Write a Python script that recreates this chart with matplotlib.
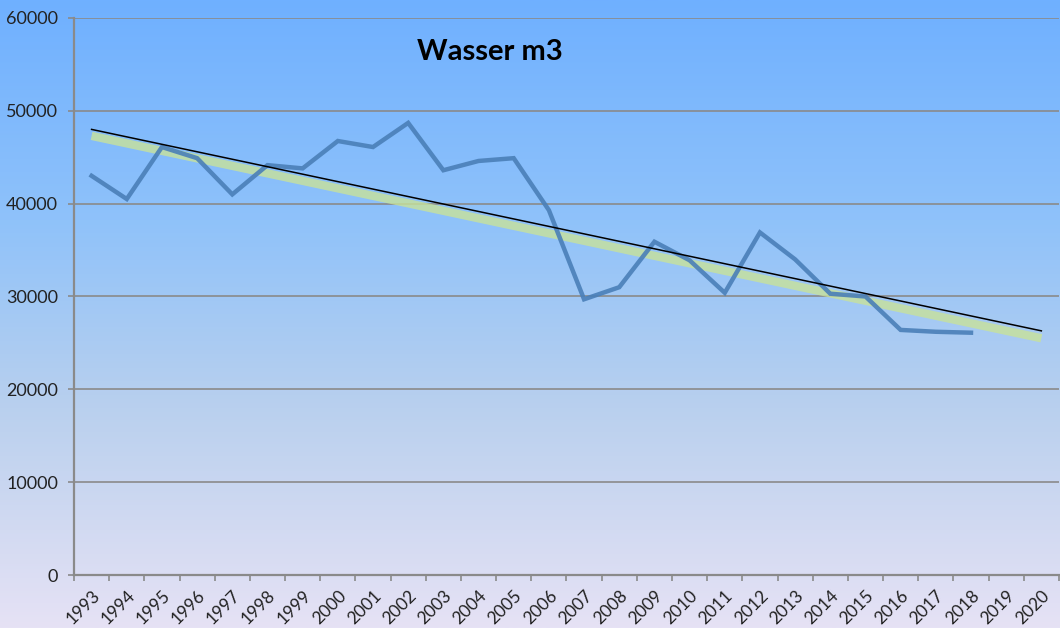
import numpy as np
import matplotlib
matplotlib.use("Agg")
import matplotlib.pyplot as plt
from matplotlib.colors import LinearSegmentedColormap

years = [str(y) for y in range(1993, 2021)]
wasser = [43000, 40500, 46100, 44900, 41000, 44150, 43800, 46750, 46100, 48700,
          43600, 44600, 44900, 39300, 29700, 31000, 35900, 33900, 30400, 36900,
          34000, 30300, 30000, 26400, 26200, 26100]
trend_black = [48000, 26300]   # values at 1993 and 2020
trend_green = [47300, 25500]
title = "Wasser m3"
yticks = [0, 10000, 20000, 30000, 40000, 50000, 60000]

plt.rcParams['font.family'] = ['Lato', 'DejaVu Sans']

fig = plt.figure(figsize=(10.6, 6.28), dpi=100)

# gradient background
bg = fig.add_axes([0, 0, 1, 1], zorder=-10)
cmap = LinearSegmentedColormap.from_list(
    "bg", [(0.0, "#6fb0ff"), (0.35, "#8fc2fa"), (0.65, "#b9d0ee"), (1.0, "#e6e2f5")])
grad = np.linspace(0, 1, 256).reshape(-1, 1)
bg.imshow(grad, aspect='auto', cmap=cmap, extent=[0, 1, 0, 1], origin='upper')
bg.axis('off')

ax = fig.add_axes([74/1060, 53/628, 1 - 74/1060 - 0.001, (575-18)/628])
ax.patch.set_alpha(0)

x = np.arange(len(years))
xw = np.arange(len(wasser))
ax.set_xlim(-0.5, len(years) - 0.5)
ax.set_ylim(0, 60000)

ax.plot([0, len(years) - 1], trend_green, color="#c8e29a", lw=6, alpha=0.8,
        solid_capstyle='butt', zorder=2)
ax.plot(xw, wasser, color="#4a7fb8", lw=3.2, alpha=0.9, zorder=3,
        solid_joinstyle='miter')
ax.plot([0, len(years) - 1], trend_black, color="black", lw=1.1, zorder=4)

ax.set_yticks(yticks)
ax.set_yticklabels([str(v) for v in yticks], fontsize=13, color="#222222")
ax.yaxis.grid(True, color="#8a8a8a", lw=1.2)
ax.set_axisbelow(True)

ax.set_xticks(np.arange(len(years) + 1) - 0.5, minor=False)
ax.set_xticklabels([])
ax.set_xticks(x, minor=True)
ax.set_xticklabels(years, minor=True, rotation=45, ha='right',
                   rotation_mode='anchor', fontsize=12.5, color="#222222")
ax.tick_params(axis='x', which='major', length=4, color="#8a8a8a", width=1.2)
ax.tick_params(axis='x', which='minor', length=0, pad=9)
ax.tick_params(axis='y', length=4.5, color="#8a8a8a", width=1.2, pad=7)

for s in ['top', 'right']:
    ax.spines[s].set_visible(False)
for s in ['left', 'bottom']:
    ax.spines[s].set_color("#8a8a8a")
    ax.spines[s].set_linewidth(1.6)

fig.text(490/1060, 1 - 52/628, title, fontsize=21, fontweight='bold',
         ha='center', va='center', color='black')

fig.savefig("out.png", dpi=100)
